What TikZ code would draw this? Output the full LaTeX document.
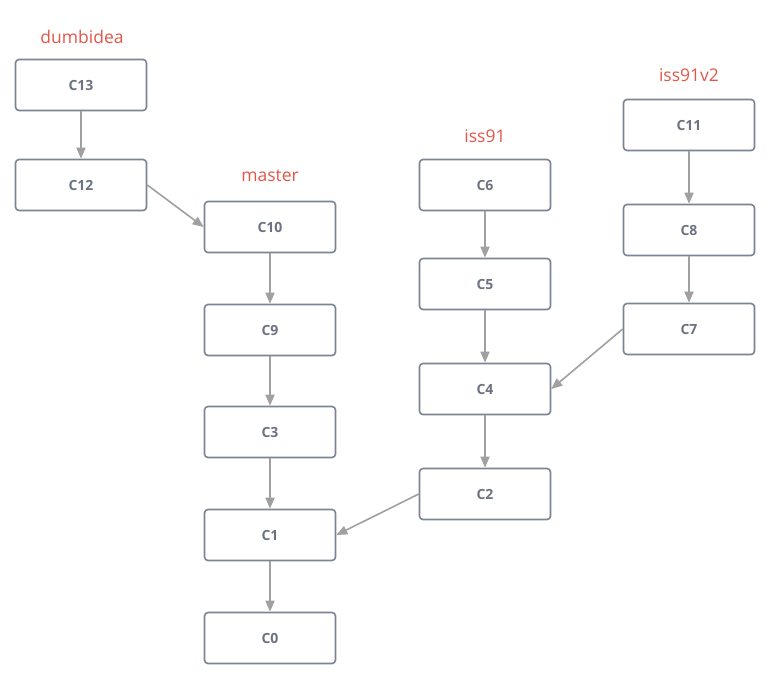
\documentclass[tikz,border=0pt]{standalone}
\usepackage{fontspec}
\setmainfont{Open Sans}
\usetikzlibrary{arrows.meta}
\definecolor{boxline}{HTML}{7B8494}
\definecolor{boxtext}{HTML}{6B7280}
\definecolor{arrowc}{HTML}{A0A0A0}
\definecolor{labelc}{HTML}{E0574A}
\begin{document}
\begin{tikzpicture}[x=1pt,y=-1pt,
  commit/.style={draw=boxline, line width=1.6pt, rounded corners=3.5pt, fill=white,
    minimum width=131pt, minimum height=51pt, inner sep=0pt,
    font=\fontsize{14}{16}\selectfont\bfseries, text=boxtext},
  blabel/.style={font=\fontsize{17.5}{20}\selectfont, text=labelc},
  link/.style={draw=arrowc, line width=1.6pt, -{Triangle[length=11pt,width=9pt]}}]
\useasboundingbox (0,0) rectangle (770,681);
\node[commit] (c13) at (81,85) {C13};
\node[commit] (c12) at (81,185) {C12};
\node[commit] (c10) at (270,227) {C10};
\node[commit] (c9) at (270,330) {C9};
\node[commit] (c3) at (270,432) {C3};
\node[commit] (c1) at (270,535) {C1};
\node[commit] (c0) at (270,638) {C0};
\node[commit] (c6) at (485,185) {C6};
\node[commit] (c5) at (485,284) {C5};
\node[commit] (c4) at (485,389) {C4};
\node[commit] (c2) at (485,494) {C2};
\node[commit] (c11) at (689,125) {C11};
\node[commit] (c8) at (689,230) {C8};
\node[commit] (c7) at (689,329) {C7};
\node[blabel] (ldumb) at (82,37) {dumbidea};
\node[blabel] (lmaster) at (270,176) {master};
\node[blabel] (liss) at (485,136) {iss91};
\node[blabel] (lissv) at (689,75) {iss91v2};
\draw[link] (c13) -- (c12);
\draw[link] (c12.east) -- (c10.west);
\draw[link] (c10) -- (c9);
\draw[link] (c9) -- (c3);
\draw[link] (c3) -- (c1);
\draw[link] (c1) -- (c0);
\draw[link] (c6) -- (c5);
\draw[link] (c5) -- (c4);
\draw[link] (c4) -- (c2);
\draw[link] (c2.west) -- (c1.east);
\draw[link] (c11) -- (c8);
\draw[link] (c8) -- (c7);
\draw[link] (c7.west) -- (c4.east);
\end{tikzpicture}
\end{document}
